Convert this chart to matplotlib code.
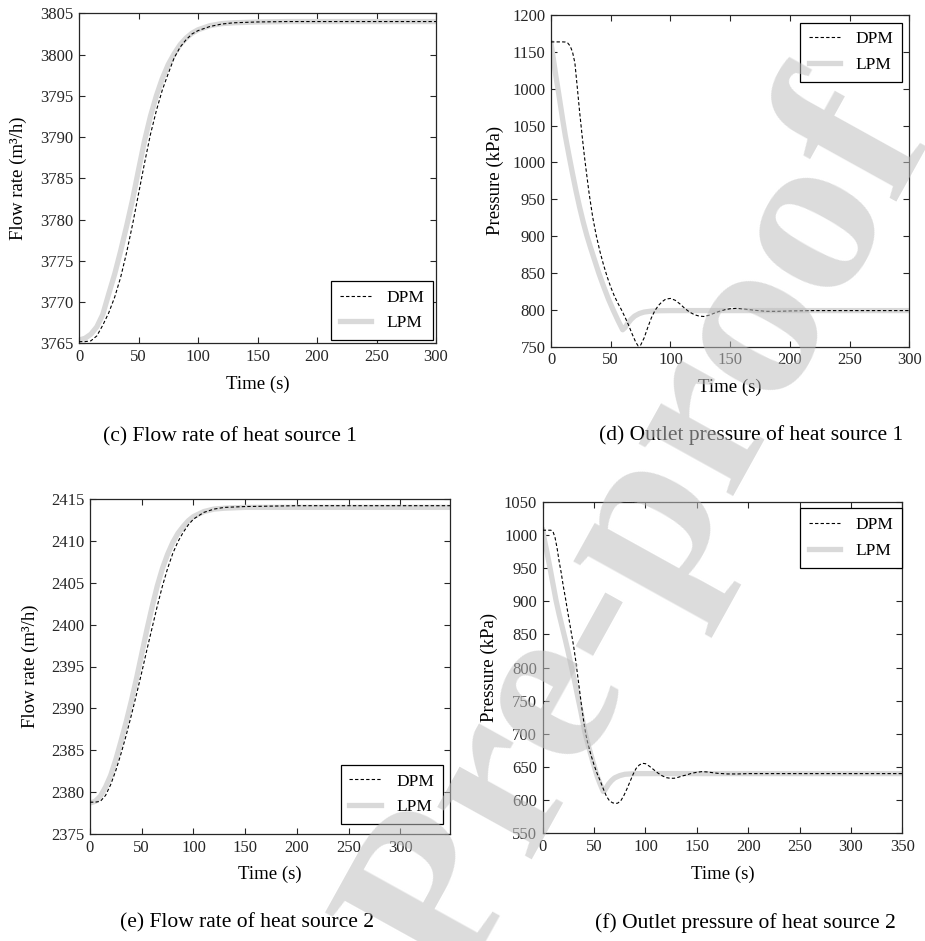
import matplotlib
matplotlib.use("Agg")
import matplotlib.pyplot as plt

plt.rcParams['font.family'] = ['Liberation Serif', 'DejaVu Serif']
plt.rcParams['axes.edgecolor'] = '#262626'
plt.rcParams['xtick.color'] = '#262626'
plt.rcParams['ytick.color'] = '#262626'

# ---- (c) Flow rate of heat source 1 ----
c_t_dpm = [0, 5, 10, 15, 20, 25, 30, 35, 40, 45, 50, 55, 60, 65, 70, 75, 80, 85,
           90, 95, 100, 110, 120, 130, 150, 175, 200, 250, 300]
c_dpm = [3765.2, 3765.2, 3765.3, 3765.9, 3767.2, 3768.7, 3770.6, 3773.0, 3776.0,
         3779.4, 3783.1, 3786.8, 3790.3, 3793.2, 3795.7, 3797.7, 3799.6, 3800.9,
         3801.8, 3802.5, 3802.9, 3803.4, 3803.7, 3803.85, 3803.95, 3804.0, 3804.0,
         3804.0, 3804.0]
c_t_lpm = c_t_dpm
c_lpm = [3765.4, 3765.6, 3766.1, 3767.0, 3768.5, 3771.0, 3773.4, 3776.2, 3779.2,
         3782.4, 3786.0, 3789.5, 3792.5, 3795.0, 3797.1, 3798.8, 3800.1, 3801.2,
         3802.0, 3802.6, 3803.0, 3803.5, 3803.75, 3803.85, 3803.95, 3804.0, 3804.0,
         3804.0, 3804.0]

# ---- (d) Outlet pressure of heat source 1 ----
d_t_dpm = [0, 5, 10, 12, 14, 16, 18, 20, 22, 24, 26, 28, 30, 32, 35, 38, 41, 44,
           47, 50, 53, 56, 59, 62, 65, 68, 71, 73, 75, 78, 81, 84, 87, 90, 93, 96,
           100, 104, 108, 112, 116, 120, 124, 128, 132, 136, 140, 145, 150, 155,
           160, 165, 170, 180, 190, 200, 220, 250, 300]
d_dpm = [1163.5, 1163.5, 1163.5, 1163.3, 1162, 1158, 1150, 1135, 1102, 1068, 1037,
         1008, 982, 957, 925, 900, 879, 861, 845, 831, 819, 809, 800, 790, 779,
         767, 756, 751, 752, 762, 776, 789, 799, 806, 811, 814.5, 815.5, 813, 808,
         802, 797, 793.5, 791.5, 791, 792.5, 795, 797.5, 800, 801.5, 802, 801.5,
         800.5, 799.5, 798, 798, 798.5, 799, 799, 799]
d_t_lpm = [0, 2, 4, 6, 8, 10, 12, 15, 18, 21, 24, 27, 30, 33, 36, 40, 44, 48, 52,
           56, 60, 62, 64, 67, 70, 74, 78, 84, 90, 100, 150, 200, 300]
d_lpm = [1162, 1140, 1118, 1098, 1077, 1056, 1036, 1010, 985, 961, 939, 919, 901,
         885, 870, 850, 832, 815, 800, 786, 773, 776, 781, 787, 791.5, 795, 797,
         798.3, 798.8, 799, 799, 799, 799]
d_yticks = [750, 800, 850, 900, 950, 1000, 1050, 1100, 1150, 1200]
d_yticklabels = ['750', '800', '850', '900', '950', '1000', '1050', '1000', '1150', '1200']

# ---- (e) Flow rate of heat source 2 ----
e_t = [0, 5, 10, 15, 20, 25, 30, 35, 40, 45, 50, 55, 60, 65, 70, 75, 80, 85, 90,
       95, 100, 110, 120, 130, 150, 200, 250, 300, 348]
e_dpm = [2378.8, 2378.8, 2378.9, 2379.6, 2380.9, 2382.6, 2384.6, 2386.8, 2389.2,
         2391.7, 2394.3, 2397.0, 2399.6, 2402.2, 2404.6, 2406.7, 2408.5, 2409.9,
         2411.0, 2411.9, 2412.6, 2413.4, 2413.8, 2414.0, 2414.1, 2414.2, 2414.2,
         2414.2, 2414.2]
e_lpm = [2378.7, 2378.9, 2379.5, 2380.6, 2382.0, 2383.9, 2386.1, 2388.4, 2390.9,
         2393.6, 2396.5, 2399.4, 2402.1, 2404.6, 2406.7, 2408.4, 2409.8, 2410.9,
         2411.7, 2412.4, 2412.9, 2413.5, 2413.8, 2413.9, 2414.0, 2414.0, 2414.0,
         2414.0, 2414.0]

# ---- (f) Outlet pressure of heat source 2 ----
f_t_dpm = [0, 8, 10, 12, 14, 16, 18, 20, 22, 24, 26, 28, 30, 32, 34, 36, 38, 40,
           42, 44, 47, 50, 53, 56, 59, 62, 65, 68, 71, 73, 76, 79, 82, 85, 88, 91,
           94, 97, 100, 104, 108, 112, 116, 120, 124, 128, 132, 136, 140, 145, 150,
           155, 160, 165, 170, 180, 190, 200, 250, 350]
f_dpm = [1007, 1007, 1005, 996, 980, 960, 943, 923, 906, 887, 869, 851, 833, 812,
         788, 764, 740, 718, 699, 685, 668, 653, 640, 629, 617, 606, 599, 596, 595,
         595.5, 599, 607, 617, 628, 639, 648, 653, 655.5, 655, 651, 646, 641, 637,
         634, 633, 633, 634.5, 636.5, 638, 640.5, 642, 643, 642.5, 641.5, 640.5,
         639.5, 639.5, 640, 640, 640]
f_t_lpm = [0, 2, 4, 7, 10, 13, 16, 19, 22, 25, 28, 31, 34, 37, 41, 45, 49, 53, 56,
           59, 60, 62, 64, 67, 70, 75, 80, 90, 100, 200, 350]
f_lpm = [1007, 990, 975, 951, 926, 901, 880, 861, 842, 822, 801, 780, 757, 735,
         703, 679, 657, 636, 624, 613, 614, 619, 624, 629.5, 633.5, 637, 639, 640,
         640, 640, 640]

DPM_STYLE = dict(color='black', lw=0.8, dashes=(3, 2), label='DPM', zorder=3)
LPM_STYLE = dict(color='#d9d9d9', lw=3.8, label='LPM', zorder=2)

W, H = 925, 941
fig = plt.figure(figsize=(W / 100, H / 100), dpi=100)


def make_axes(l, r, t, b):
    return fig.add_axes([l / W, 1 - b / H, (r - l) / W, (b - t) / H])


def style(ax, ylabel, label_dx):
    ax.tick_params(direction='in', top=True, right=True, length=4, width=0.8,
                   labelsize=12, pad=4)
    for s in ax.spines.values():
        s.set_linewidth(0.9)
    ax.set_xlabel('Time (s)', fontsize=13.5, labelpad=7.5)
    ax.set_ylabel(ylabel, fontsize=13.5)
    w = ax.get_position().width * W
    ax.yaxis.set_label_coords(-label_dx / w, 0.5)


def legend(ax, loc, anchor):
    leg = ax.legend(loc=loc, bbox_to_anchor=anchor, fontsize=12.5,
                    handlelength=1.8, handletextpad=0.9, borderpad=0.5,
                    labelspacing=0.55, borderaxespad=0, fancybox=False,
                    framealpha=1, edgecolor='black')
    leg.get_frame().set_linewidth(0.9)


# (c)
ax = make_axes(79, 436, 13.3, 343.3)
ax.plot(c_t_dpm, c_dpm, **DPM_STYLE)
ax.plot(c_t_lpm, c_lpm, **LPM_STYLE)
ax.set_xlim(0, 300)
ax.set_ylim(3765, 3805)
ax.set_xticks(range(0, 301, 50))
ax.set_yticks(range(3765, 3806, 5))
style(ax, 'Flow rate (m³/h)', 52)
legend(ax, 'lower right', (0.992, 0.01))

# (d)
ax = make_axes(551, 909.3, 15, 346.7)
ax.plot(d_t_dpm, d_dpm, **DPM_STYLE)
ax.plot(d_t_lpm, d_lpm, **LPM_STYLE)
ax.set_xlim(0, 300)
ax.set_ylim(750, 1200)
ax.set_xticks(range(0, 301, 50))
ax.set_yticks(d_yticks)
ax.set_yticklabels(d_yticklabels)
style(ax, 'Pressure (kPa)', 47)
legend(ax, 'upper right', (0.98, 0.977))

# (e)
ax = make_axes(90, 450, 499, 834)
ax.plot(e_t, e_dpm, **DPM_STYLE)
ax.plot(e_t, e_lpm, **LPM_STYLE)
ax.set_xlim(0, 348)
ax.set_ylim(2375, 2415)
ax.set_xticks(range(0, 301, 50))
ax.set_yticks(range(2375, 2416, 5))
style(ax, 'Flow rate (m³/h)', 51)
legend(ax, 'lower right', (0.98, 0.03))

# (f)
ax = make_axes(542.7, 902.3, 501.7, 833.3)
ax.plot(f_t_dpm, f_dpm, **DPM_STYLE)
ax.plot(f_t_lpm, f_lpm, **LPM_STYLE)
ax.set_xlim(0, 350)
ax.set_ylim(550, 1050)
ax.set_xticks(range(0, 351, 50))
ax.set_yticks(range(550, 1051, 50))
style(ax, 'Pressure (kPa)', 45)
legend(ax, 'upper right', (0.999, 0.98))

# panel captions
captions = ['(c) Flow rate of heat source 1', '(d) Outlet pressure of heat source 1',
            '(e) Flow rate of heat source 2', '(f) Outlet pressure of heat source 2']
cap_xy = [(230, 437), (751.5, 435), (247.5, 923), (745.5, 923)]
for txt, (x, y) in zip(captions, cap_xy):
    fig.text(x / W, 1 - y / H, txt, fontsize=15.5, ha='center', va='center')

# diagonal watermark
fig.text(932 / W, 1 - 138 / H, 'Journal Pre-proof', fontsize=170, fontweight='bold',
         color=(0.75, 0.75, 0.75), alpha=0.55, rotation=61, rotation_mode='anchor',
         ha='right', va='baseline', zorder=10)

fig.savefig('out.png', dpi=100)
